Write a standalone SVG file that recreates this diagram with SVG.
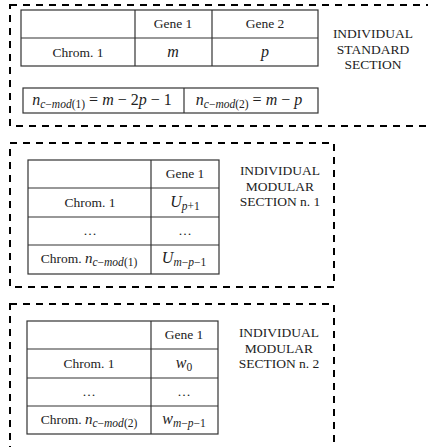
<svg xmlns="http://www.w3.org/2000/svg" width="428" height="447" viewBox="0 0 428 447">
<style>
.sec{fill:none;stroke:#000;stroke-width:2;stroke-dasharray:7 6}
.cell{fill:#fff;stroke:#333;stroke-width:1.2}
.ln{stroke:#333;stroke-width:1.2}
.t{font-family:"Liberation Serif","Times New Roman",serif;font-size:13.5px;fill:#222;text-anchor:middle}
.m{font-family:"Liberation Serif","Times New Roman",serif;font-style:italic;font-size:16px;fill:#222;text-anchor:middle}
.s{font-size:11.5px}
.u{font-style:normal}
.lab{font-family:"Liberation Serif","Times New Roman",serif;font-size:13.5px;fill:#222;text-anchor:middle}
</style>
<rect width="428" height="447" fill="#fff"/>

<g id="standard-section">
<rect class="sec" x="10" y="5" width="440" height="121"/>
<rect class="cell" x="21" y="10" width="297" height="56"/>
<line class="ln" x1="21" y1="38" x2="318" y2="38"/>
<line class="ln" x1="135" y1="10" x2="135" y2="66"/>
<line class="ln" x1="212" y1="10" x2="212" y2="66"/>
<text class="t" x="173" y="28">Gene 1</text>
<text class="t" x="265" y="28">Gene 2</text>
<text class="t" x="78" y="57">Chrom. 1</text>
<text class="m" x="173" y="57">m</text>
<text class="m" x="265" y="57">p</text>
<rect class="cell" x="23" y="88" width="295" height="25"/>
<line class="ln" x1="184" y1="88" x2="184" y2="113"/>
<text class="m" x="102" y="105">n<tspan class="s" dy="3">c<tspan class="u">−</tspan>mod<tspan class="u">(1)</tspan></tspan><tspan dy="-3" class="u"> = </tspan>m<tspan class="u"> − 2</tspan>p<tspan class="u"> − 1</tspan></text>
<text class="m" x="249" y="105">n<tspan class="s" dy="3">c<tspan class="u">−</tspan>mod<tspan class="u">(2)</tspan></tspan><tspan dy="-3" class="u"> = </tspan>m<tspan class="u"> − </tspan>p</text>
<text class="lab" x="373" y="38">INDIVIDUAL</text>
<text class="lab" x="373" y="54">STANDARD</text>
<text class="lab" x="373" y="69">SECTION</text>
</g>

<g id="modular-section-1">
<rect class="sec" x="10" y="143" width="324" height="144"/>
<rect class="cell" x="28" y="160" width="191" height="114"/>
<line class="ln" x1="28" y1="188" x2="219" y2="188"/>
<line class="ln" x1="28" y1="217" x2="219" y2="217"/>
<line class="ln" x1="28" y1="245" x2="219" y2="245"/>
<line class="ln" x1="151" y1="160" x2="151" y2="274"/>
<text class="t" x="185" y="178">Gene 1</text>
<text class="t" x="90" y="207">Chrom. 1</text>
<text class="m" x="185" y="207">U<tspan class="s" dy="3">p<tspan class="u">+1</tspan></tspan></text>
<text class="t" x="90" y="235">…</text>
<text class="t" x="185" y="235">…</text>
<text class="t" x="89" y="263">Chrom. <tspan style="font-style:italic;font-size:15px">n</tspan><tspan class="s" style="font-style:italic" dy="3">c<tspan class="u">−</tspan>mod<tspan class="u">(1)</tspan></tspan></text>
<text class="m" x="184" y="263">U<tspan class="s" dy="3">m<tspan class="u">−</tspan>p<tspan class="u">−1</tspan></tspan></text>
<text class="lab" x="280" y="175">INDIVIDUAL</text>
<text class="lab" x="280" y="191">MODULAR</text>
<text class="lab" x="280" y="206">SECTION n. 1</text>
</g>

<g id="modular-section-2">
<rect class="sec" x="10" y="304" width="324" height="160"/>
<rect class="cell" x="27" y="321" width="191" height="113"/>
<line class="ln" x1="27" y1="349" x2="218" y2="349"/>
<line class="ln" x1="27" y1="378" x2="218" y2="378"/>
<line class="ln" x1="27" y1="406" x2="218" y2="406"/>
<line class="ln" x1="151" y1="321" x2="151" y2="434"/>
<text class="t" x="184" y="339">Gene 1</text>
<text class="t" x="89" y="368">Chrom. 1</text>
<text class="m" x="184" y="368">w<tspan class="s u" dy="3">0</tspan></text>
<text class="t" x="89" y="396">…</text>
<text class="t" x="184" y="396">…</text>
<text class="t" x="89" y="424">Chrom. <tspan style="font-style:italic;font-size:15px">n</tspan><tspan class="s" style="font-style:italic" dy="3">c<tspan class="u">−</tspan>mod<tspan class="u">(2)</tspan></tspan></text>
<text class="m" x="184" y="424">w<tspan class="s" dy="3">m<tspan class="u">−</tspan>p<tspan class="u">−1</tspan></tspan></text>
<text class="lab" x="279" y="337">INDIVIDUAL</text>
<text class="lab" x="279" y="353">MODULAR</text>
<text class="lab" x="279" y="368">SECTION n. 2</text>
</g>

<g id="connectors"></g>
</svg>
